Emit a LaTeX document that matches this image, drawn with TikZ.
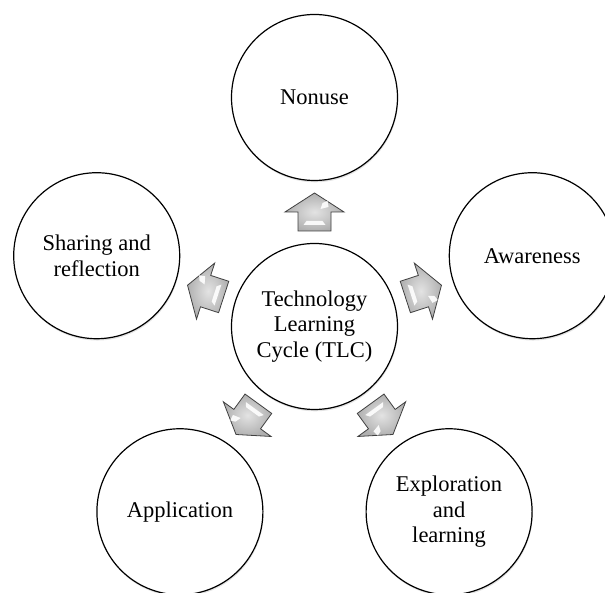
\documentclass[tikz,border=0pt]{standalone}
\usepackage{fontspec}
\setmainfont{Liberation Serif}
\usetikzlibrary{calc,shadows}
\begin{document}
\begin{tikzpicture}[x=1pt,y=1pt,
  stage/.style={circle, draw=black, line width=1.2pt, fill=white,
    minimum size=166pt, inner sep=0pt, align=center,
    font=\fontsize{22.5}{25.5}\selectfont,
    drop shadow={opacity=0.22, shadow xshift=0.6pt, shadow yshift=-1.8pt}},
  blockarrow/.style={draw=gray!50!black, line width=0.8pt, line join=miter,
    inner color=gray!22, outer color=gray!62},
  gleam/.style={fill=white, draw=none, opacity=0.9}]
\useasboundingbox (0,0) rectangle (605,593);
\coordinate (c) at (314.5,266.5);
% the cycle: a hub and five stages on a regular pentagon
\node[stage] (tlc) at (c) {Technology\\Learning\\Cycle (TLC)};
\node[stage] (nonuse)  at ($(c)+(90:229)$)   {Nonuse};
\node[stage] (aware)   at ($(c)+(18:229)$)   {Awareness};
\node[stage] (explore) at ($(c)+(-54:229)$)  {Exploration\\and\\learning};
\node[stage] (apply)   at ($(c)+(-126:229)$) {Application};
\node[stage] (share)   at ($(c)+(162:229)$)  {Sharing and\\reflection};
% block arrows from the hub out to each stage
\foreach \ang/\target in {90/nonuse, 18/aware, -54/explore, -126/apply, 162/share}{
  \begin{scope}[shift={($(tlc.center)!0.5!(\target.center)$)}, rotate=\ang]
    \path[blockarrow] (-19,-16.5) -- (0,-16.5) -- (0,-29.5) -- (19,0)
      -- (0,29.5) -- (0,16.5) -- (-19,16.5) -- cycle;
    \fill[gleam] (3,-6) -- (9,-8) -- (11,-13) -- (5,-14) -- cycle;
    \fill[gleam] (-9,-8) -- (-9,8) -- (-13,11) -- (-13,-11) -- cycle;
  \end{scope}
}
\end{tikzpicture}
\end{document}
